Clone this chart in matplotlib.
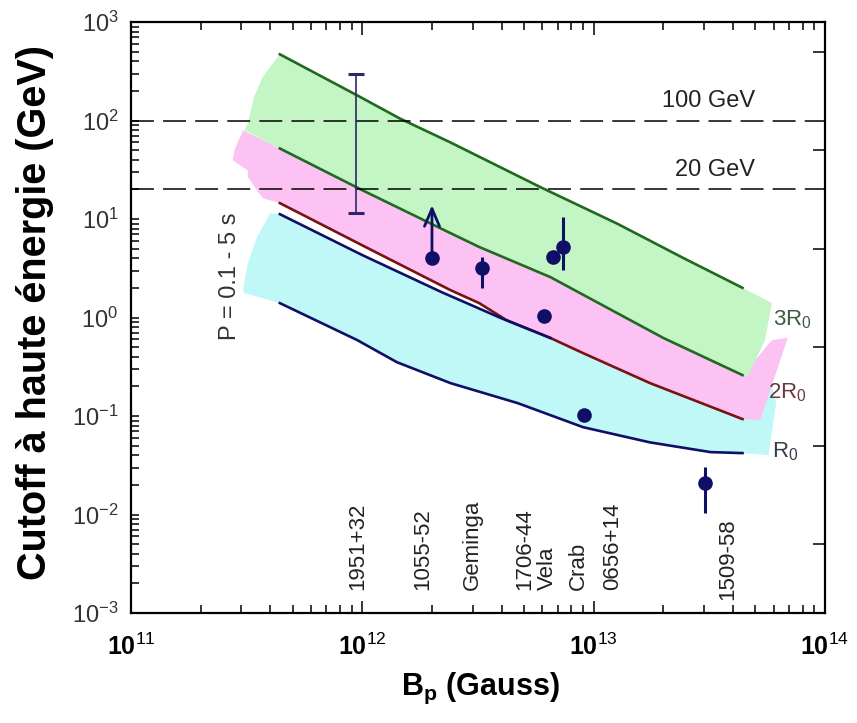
import matplotlib
matplotlib.use('Agg')
import matplotlib.pyplot as plt
import numpy as np
from matplotlib.ticker import FixedLocator, NullLocator, LogLocator, FuncFormatter, NullFormatter

plt.rcParams['font.family'] = ['Liberation Sans', 'DejaVu Sans']
plt.rcParams['mathtext.fontset'] = 'custom'
plt.rcParams['mathtext.rm'] = 'Liberation Sans'
plt.rcParams['mathtext.bf'] = 'Liberation Sans:bold'
plt.rcParams['mathtext.it'] = 'Liberation Sans:italic'

# model curves (B in Gauss, E in GeV)
r3_hi_B = [4.4e11, 9.5e11, 1.45e12, 2.4e12, 5.9e12, 1.26e13, 2.45e13, 4.4e13]
r3_hi_E = [470, 180, 105, 60, 21, 9.0, 4.0, 2.0]
r3_lo_B = [4.4e11, 1.0e12, 2.4e12, 3.2e12, 6.5e12, 2.0e13, 4.4e13]
r3_lo_E = [52, 19.6, 7.2, 5.2, 2.57, 0.62, 0.26]
r2_B = [4.4e11, 1.0e12, 2.4e12, 3.2e12, 4.2e12, 6.5e12, 9.0e12, 1.75e13, 4.4e13]
r2_E = [14.5, 5.4, 1.90, 1.40, 0.94, 0.62, 0.435, 0.216, 0.093]
r1_hi_B = [4.4e11, 1.0e12, 2.2e12, 4.0e12, 6.5e12]
r1_hi_E = [11.2, 4.3, 1.81, 0.98, 0.62]
r1_lo_B = [4.4e11, 9.5e11, 1.41e12, 2.4e12, 4.7e12, 9.0e12, 1.75e13, 3.2e13, 4.4e13]
r1_lo_E = [1.40, 0.59, 0.352, 0.216, 0.135, 0.077, 0.054, 0.043, 0.042]

# band outlines (ends of the shaded regions)
green_right_B = [5.9e13, 5.5e13, 4.65e13]
green_right_E = [1.40, 0.59, 0.254]
green_left_B = [3.1e11, 3.2e11, 3.4e11, 3.7e11]
green_left_E = [80, 94, 172, 275]
pink_right_B = [5.9e13, 6.9e13, 5.25e13]
pink_right_E = [0.59, 0.62, 0.091]
pink_left_B = [3.7e11, 3.2e11, 3.2e11, 2.75e11, 2.8e11, 3.05e11]
pink_left_E = [16.3, 26.6, 31, 39.5, 50, 80]
cyan_right_B = [5.8e13, 6.15e13, 5.7e13]
cyan_right_E = [0.23, 0.138, 0.040]
cyan_left_B = [3.1e11, 3.05e11, 3.2e11, 3.5e11, 4.0e11]
cyan_left_E = [1.77, 1.90, 3.56, 6.5, 11.5]

# pulsars
det_B = [2.0e12, 3.3e12, 6.1e12, 6.65e12, 7.4e12, 9.1e12, 3.03e13]
det_E = [4.0, 3.15, 1.03, 4.1, 5.2, 0.102, 0.0207]
det_lo = [4.0, 1.98, 1.03, 4.1, 3.02, 0.102, 0.0103]
det_hi = [4.0, 4.14, 1.03, 4.1, 10.4, 0.102, 0.0306]
limit_B, limit_E, limit_top = 2.0e12, 4.0, 13.8
range_B, range_lo, range_hi = 9.4e11, 11.5, 300

psr_names = ['1951+32', '1055-52', 'Geminga', '1706-44', 'Vela', 'Crab', '0656+14', '1509-58']
psr_B = [9.6e11, 1.83e12, 3.0e12, 5.05e12, 6.3e12, 8.6e12, 1.21e13, 3.78e13]

levels = [100, 20]
level_labels = ['100 GeV', '20 GeV']

navy = '#0f0f68'

fig = plt.figure(figsize=(8.57, 7.23), dpi=100)
ax = fig.add_axes([131/857, 1-613/723, 694/857, 591/723])
ax.set_xscale('log')
ax.set_yscale('log')
ax.set_xlim(1e11, 1e14)
ax.set_ylim(1e-3, 1e3)


def band(top_B, top_E, right_B, right_E, bot_B, bot_E, left_B, left_E):
    xs = list(top_B) + right_B + list(bot_B)[::-1] + left_B
    ys = list(top_E) + right_E + list(bot_E)[::-1] + left_E
    return xs, ys


r2_B_arr = np.array(r2_B)
r2_E_arr = np.array(r2_E)
cy_top_B = r1_hi_B + list(r2_B_arr[r2_B_arr > r1_hi_B[-1]])
cy_top_E = r1_hi_E + list(r2_E_arr[r2_B_arr > r1_hi_B[-1]])

xs, ys = band(cy_top_B, cy_top_E, cyan_right_B, cyan_right_E, r1_lo_B, r1_lo_E, cyan_left_B, cyan_left_E)
ax.fill(xs, ys, color='#c0f8f8', lw=0, zorder=1)
xs, ys = band(r3_lo_B, r3_lo_E, pink_right_B, pink_right_E, r2_B, r2_E, pink_left_B, pink_left_E)
ax.fill(xs, ys, color='#fcc2f3', lw=0, zorder=2)
xs, ys = band(r3_hi_B, r3_hi_E, green_right_B, green_right_E, r3_lo_B, r3_lo_E, green_left_B, green_left_E)
ax.fill(xs, ys, color='#c4f5c4', lw=0, zorder=3)

ax.plot(r3_hi_B, r3_hi_E, color='#1f6a1f', lw=1.9, zorder=4)
ax.plot(r3_lo_B, r3_lo_E, color='#1f6a1f', lw=1.9, zorder=4)
ax.plot(r2_B, r2_E, color='#7a1212', lw=1.9, zorder=4)
ax.plot(r1_hi_B, r1_hi_E, color=navy, lw=1.9, zorder=4)
ax.plot(r1_lo_B, r1_lo_E, color=navy, lw=1.9, zorder=4)

for lev, lab in zip(levels, level_labels):
    ax.axhline(lev, color='black', lw=1.1, ls=(0, (15, 6)), zorder=4)
    ax.text(5e13, lev * 1.22, lab, ha='right', va='bottom', fontsize=17, color='#222222')

# detections
det_E_a = np.array(det_E)
yerr = [det_E_a - np.array(det_lo), np.array(det_hi) - det_E_a]
ax.errorbar(det_B, det_E, yerr=yerr, fmt='o', color=navy, ms=9.5, elinewidth=2.2, capsize=0, zorder=6)
ax.annotate('', xy=(limit_B, limit_top), xytext=(limit_B, limit_E),
            arrowprops=dict(arrowstyle='->,head_length=0.7,head_width=0.3', lw=2.0, color=navy,
                            mutation_scale=18, shrinkA=0, shrinkB=0), zorder=6)
mid = np.sqrt(range_lo * range_hi)
ax.errorbar([range_B], [mid], yerr=[[mid - range_lo], [range_hi - mid]],
            fmt='none', ecolor='#2a2a6a', elinewidth=1.2, capsize=5.5, capthick=2.2, zorder=6)

for name, b in zip(psr_names, psr_B):
    yb = 1.35e-3 if name == '1509-58' else 1.7e-3
    ax.text(b, yb, name, rotation=90, ha='center', va='bottom', fontsize=16, color='#222222')

ax.text(2.68e11, 2.6, 'P = 0.1 - 5 s', rotation=90, ha='center', va='center', fontsize=17, color='#333333')
ax.text(5.97e13, 0.835, r'3R$_0$', ha='left', va='baseline', fontsize=16, color='#3f5a3f')
ax.text(5.68e13, 0.152, r'2R$_0$', ha='left', va='baseline', fontsize=16, color='#6a3a3a')
ax.text(5.9e13, 0.0383, r'R$_0$', ha='left', va='baseline', fontsize=16, color='#3a3a55')

# axes styling
for s in ax.spines.values():
    s.set_linewidth(1.6)
ax.yaxis.set_major_locator(LogLocator(base=10, numticks=20))
ax.yaxis.set_minor_locator(LogLocator(base=10, subs=np.arange(2, 10), numticks=20))
ax.xaxis.set_major_formatter(FuncFormatter(lambda v, p: r'$\mathbf{10}^{%d}$' % round(np.log10(v))))
ax.yaxis.set_major_formatter(FuncFormatter(lambda v, p: r'$10^{%d}$' % round(np.log10(v))))
ax.xaxis.set_minor_formatter(NullFormatter())
ax.yaxis.set_minor_formatter(NullFormatter())
ax.tick_params(which='both', direction='in', top=True, right=False, width=1.1)
ax.tick_params(axis='x', which='major', length=9, pad=15, labelsize=18)
ax.tick_params(axis='x', which='minor', length=5.5)
ax.tick_params(axis='y', which='major', length=6, pad=9, labelsize=17, labelcolor='#333333')
ax.tick_params(axis='y', which='minor', length=5.5)

ax2 = ax.twinx()
ax2.set_yscale('log')
ax2.set_ylim(1e-3, 1e3)
ax2.yaxis.set_major_locator(FixedLocator([5e-3, 5e-2, 5e-1, 5, 50, 500]))
ax2.yaxis.set_minor_locator(NullLocator())
ax2.tick_params(which='both', direction='in', length=8.5, width=1.1, labelright=False)
for s in ax2.spines.values():
    s.set_visible(False)

fig.text(35/857, 1-313/723, 'Cutoff à haute énergie (GeV)', rotation=90, ha='center', va='center',
         fontsize=28.5, fontweight='bold')
fig.text(480/857, 1-688/723, r'B$_\mathbf{p}$ (Gauss)', ha='center', va='center',
         fontsize=22, fontweight='bold')

fig.savefig('out.png', dpi=100)
